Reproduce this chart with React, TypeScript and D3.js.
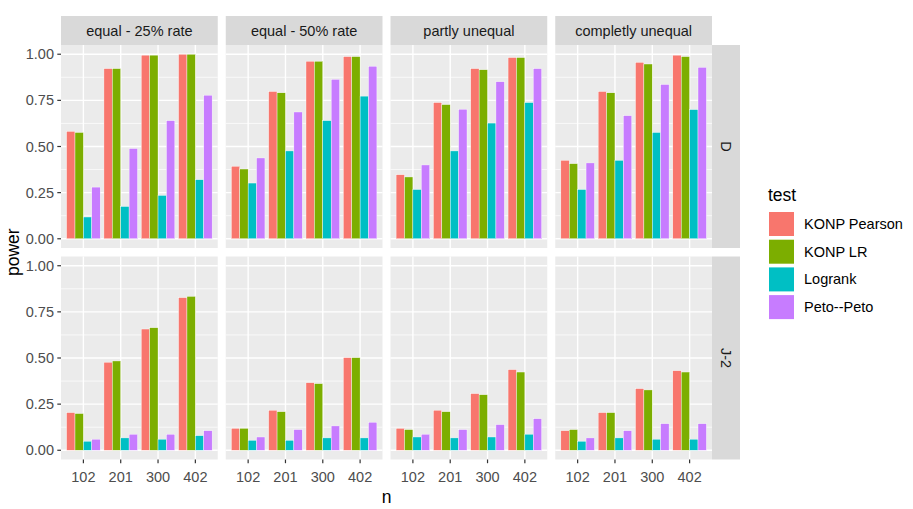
import { useRef, useEffect } from 'react';
import * as d3 from 'd3';

const sampleSizes = ['102', '201', '300', '402'];
const tests = ['KONP Pearson', 'KONP LR', 'Logrank', 'Peto--Peto'];
const testColors = ['#F8766D', '#7CAE00', '#00BFC4', '#C77CFF'];
const scenarios = ['equal - 25% rate', 'equal - 50% rate', 'partly unequal', 'completly unequal'];
const distributions = ['D', 'J-2'];
const yTicks = [0, 0.25, 0.5, 0.75, 1];
const yMinor = [0.125, 0.375, 0.625, 0.875];

// power[distribution][scenario][n] = [KONP Pearson, KONP LR, Logrank, Peto--Peto]
const powerD = [
  [[0.582, 0.576, 0.118, 0.28], [0.922, 0.922, 0.175, 0.489], [0.995, 0.995, 0.235, 0.64], [1.0, 1.0, 0.32, 0.778]],
  [[0.393, 0.378, 0.302, 0.438], [0.798, 0.791, 0.476, 0.687], [0.962, 0.962, 0.64, 0.864], [0.987, 0.987, 0.773, 0.935]],
  [[0.347, 0.335, 0.267, 0.4], [0.738, 0.727, 0.476, 0.702], [0.922, 0.916, 0.627, 0.851], [0.982, 0.982, 0.738, 0.922]],
  [[0.425, 0.407, 0.267, 0.411], [0.798, 0.791, 0.425, 0.667], [0.956, 0.947, 0.576, 0.836], [0.995, 0.987, 0.7, 0.929]],
];
const powerJ2 = [
  [[0.204, 0.199, 0.049, 0.06], [0.477, 0.484, 0.067, 0.087], [0.657, 0.664, 0.06, 0.087], [0.827, 0.834, 0.079, 0.106]],
  [[0.119, 0.119, 0.054, 0.072], [0.217, 0.209, 0.054, 0.112], [0.366, 0.361, 0.067, 0.132], [0.502, 0.502, 0.067, 0.152]],
  [[0.119, 0.112, 0.072, 0.087], [0.217, 0.209, 0.067, 0.112], [0.307, 0.301, 0.072, 0.139], [0.437, 0.424, 0.087, 0.171]],
  [[0.106, 0.112, 0.049, 0.067], [0.204, 0.204, 0.067, 0.106], [0.334, 0.327, 0.06, 0.144], [0.431, 0.424, 0.06, 0.144]],
];
const powerByDist = [powerD, powerJ2];

export default function App() {
  const svgRef = useRef<SVGSVGElement>(null);

  useEffect(() => {
    if (!svgRef.current) return;
    const svg = d3.select(svgRef.current);
    svg.selectAll('*').remove();

    const font = 'Liberation Sans, Arial, sans-serif';
    const small = '14.5px';
    const big = '17.5px';
    const panelLeft = 61;
    const panelW = 156.75;
    const gapX = 8;
    const stripTop = 16;
    const stripH = 29;
    const panelH = 203;
    const gapY = 8.5;
    const rightStripW = 28;
    const rowTop = [stripTop + stripH, stripTop + stripH + panelH + gapY];
    const lastRight = panelLeft + 4 * panelW + 3 * gapX;

    const xCat = d3.scaleLinear().domain([0.4, 4.6]).range([0, panelW]);
    const xDodge = d3.scaleBand<string>().domain(tests).range([-0.45, 0.45]);

    distributions.forEach((dist, r) => {
      const top = rowTop[r];
      const y = d3.scaleLinear().domain([-0.05, 1.05]).range([top + panelH, top]);

      scenarios.forEach((sc, c) => {
        const left = panelLeft + c * (panelW + gapX);
        const g = svg.append('g').attr('transform', `translate(${left},0)`);

        g.append('rect')
          .attr('x', 0).attr('y', top).attr('width', panelW).attr('height', panelH)
          .attr('fill', '#EBEBEB');

        yMinor.forEach((v) => {
          g.append('line')
            .attr('x1', 0).attr('x2', panelW).attr('y1', y(v)).attr('y2', y(v))
            .attr('stroke', '#fff').attr('stroke-width', 0.7);
        });
        yTicks.forEach((v) => {
          g.append('line')
            .attr('x1', 0).attr('x2', panelW).attr('y1', y(v)).attr('y2', y(v))
            .attr('stroke', '#fff').attr('stroke-width', 1.4);
        });
        sampleSizes.forEach((_n, i) => {
          g.append('line')
            .attr('x1', xCat(i + 1)).attr('x2', xCat(i + 1))
            .attr('y1', top).attr('y2', top + panelH)
            .attr('stroke', '#fff').attr('stroke-width', 1.4);
        });

        // Bars
        const vals = powerByDist[r][c];
        sampleSizes.forEach((_n, i) => {
          tests.forEach((t, j) => {
            const x0 = xCat(i + 1 + (xDodge(t) ?? 0));
            const x1 = xCat(i + 1 + (xDodge(t) ?? 0) + xDodge.bandwidth());
            g.append('rect')
              .attr('x', x0)
              .attr('y', y(vals[i][j]))
              .attr('width', x1 - x0)
              .attr('height', y(0) - y(vals[i][j]))
              .attr('fill', testColors[j])
              .attr('stroke', '#fff')
              .attr('stroke-width', 0.4);
          });
        });

        // Top strip
        if (r === 0) {
          g.append('rect')
            .attr('x', 0).attr('y', stripTop).attr('width', panelW).attr('height', stripH)
            .attr('fill', '#D9D9D9');
          g.append('text')
            .attr('x', panelW / 2).attr('y', stripTop + stripH / 2)
            .attr('dy', '0.35em')
            .attr('text-anchor', 'middle')
            .attr('font-family', font).attr('font-size', small).attr('fill', '#1A1A1A')
            .text(sc);
        }

        // X axis on bottom row
        if (r === distributions.length - 1) {
          sampleSizes.forEach((n, i) => {
            g.append('line')
              .attr('x1', xCat(i + 1)).attr('x2', xCat(i + 1))
              .attr('y1', top + panelH).attr('y2', top + panelH + 3.7)
              .attr('stroke', '#333').attr('stroke-width', 1.2);
            g.append('text')
              .attr('x', xCat(i + 1)).attr('y', top + panelH + 17.5)
              .attr('dy', '0.35em')
              .attr('text-anchor', 'middle')
              .attr('font-family', font).attr('font-size', small).attr('fill', '#4D4D4D')
              .text(n);
          });
        }
      });

      // Y axis
      yTicks.forEach((v) => {
        svg.append('line')
          .attr('x1', panelLeft - 3.7).attr('x2', panelLeft)
          .attr('y1', y(v)).attr('y2', y(v))
          .attr('stroke', '#333').attr('stroke-width', 1.2);
        svg.append('text')
          .attr('x', panelLeft - 7).attr('y', y(v))
          .attr('dy', '0.35em')
          .attr('text-anchor', 'end')
          .attr('font-family', font).attr('font-size', small).attr('fill', '#4D4D4D')
          .text(d3.format('.2f')(v));
      });

      // Right strip
      svg.append('rect')
        .attr('x', lastRight).attr('y', top).attr('width', rightStripW).attr('height', panelH)
        .attr('fill', '#D9D9D9');
      svg.append('text')
        .attr('transform', `translate(${lastRight + rightStripW / 2},${top + panelH / 2}) rotate(90)`)
        .attr('dy', '0.35em')
        .attr('text-anchor', 'middle')
        .attr('font-family', font).attr('font-size', small).attr('fill', '#1A1A1A')
        .text(dist);
    });

    // Axis titles
    svg.append('text')
      .attr('x', (panelLeft + lastRight) / 2).attr('y', 497)
      .attr('dy', '0.35em')
      .attr('text-anchor', 'middle')
      .attr('font-family', font).attr('font-size', big).attr('fill', '#000')
      .text('n');
    svg.append('text')
      .attr('transform', `translate(13,${(rowTop[0] + rowTop[1] + panelH) / 2}) rotate(-90)`)
      .attr('dy', '0.35em')
      .attr('text-anchor', 'middle')
      .attr('font-family', font).attr('font-size', big).attr('fill', '#000')
      .text('power');

    // Legend
    const lg = svg.append('g').attr('transform', 'translate(768,0)');
    lg.append('text')
      .attr('x', 0).attr('y', 195).attr('dy', '0.35em')
      .attr('font-family', font).attr('font-size', big).attr('fill', '#000')
      .text('test');
    tests.forEach((t, j) => {
      const ky = 212 + j * 27.7;
      lg.append('rect')
        .attr('x', 1).attr('y', ky).attr('width', 25).attr('height', 24)
        .attr('fill', testColors[j]);
      lg.append('text')
        .attr('x', 36).attr('y', ky + 12).attr('dy', '0.35em')
        .attr('font-family', font).attr('font-size', small).attr('fill', '#000')
        .text(t);
    });
  }, []);

  return (
    <svg
      ref={svgRef}
      width={913}
      height={509}
      style={{ position: 'absolute', left: 0, top: 0, background: '#fff' }}
    />
  );
}
